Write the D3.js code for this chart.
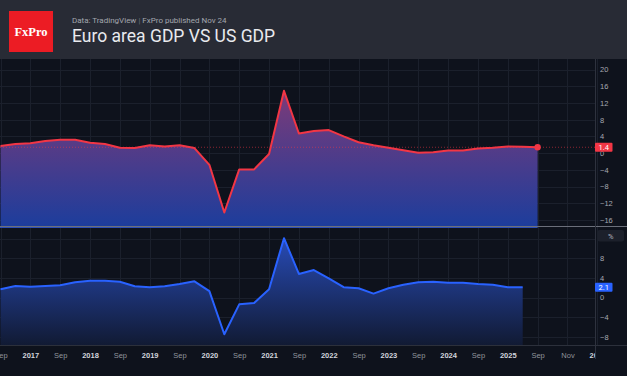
<!DOCTYPE html>
<html lang="en">
<head>
<meta charset="UTF-8">
<title>Euro area GDP VS US GDP</title>
<script src="https://d3js.org/d3.v7.min.js"></script>
<style>
  html, body { margin: 0; padding: 0; background: #0e121c; }
  svg { display: block; font-family: Roboto, "Noto Sans", Arial, sans-serif; }
  .yax text { fill: #a6a9b2; font-size: 7.5px; }
  .xax text { fill: #8f929b; font-size: 7.5px; }
  .xax text.yr { fill: #d1d4dc; font-weight: bold; }
</style>
</head>
<body>
<svg width="627" height="376"></svg>
<script>
// quarterly readings, year-on-year %
const quarters = ["2016 Q3","2016 Q4","2017 Q1","2017 Q2","2017 Q3","2017 Q4","2018 Q1","2018 Q2","2018 Q3","2018 Q4",
  "2019 Q1","2019 Q2","2019 Q3","2019 Q4","2020 Q1","2020 Q2","2020 Q3","2020 Q4","2021 Q1","2021 Q2",
  "2021 Q3","2021 Q4","2022 Q1","2022 Q2","2022 Q3","2022 Q4","2023 Q1","2023 Q2","2023 Q3","2023 Q4",
  "2024 Q1","2024 Q2","2024 Q3","2024 Q4","2025 Q1","2025 Q2","2025 Q3"];
const euroGdp = [1.7, 2.2, 2.35, 2.9, 3.2, 3.2, 2.5, 2.2, 1.3, 1.2,
  1.9, 1.6, 1.9, 1.2, -2.8, -14.2, -3.9, -3.9, -0.2, 14.9,
  4.7, 5.3, 5.5, 4.0, 2.6, 1.9, 1.3, 0.7, 0.1, 0.2,
  0.6, 0.6, 1.1, 1.3, 1.6, 1.5, 1.4];
const usGdp = [1.7, 2.35, 2.2, 2.35, 2.5, 3.1, 3.4, 3.4, 3.2, 2.3,
  2.1, 2.3, 2.75, 3.3, 1.3, -7.5, -1.4, -1.1, 1.7, 12.1,
  4.8, 5.6, 3.9, 2.1, 1.9, 0.8, 1.9, 2.6, 3.1, 3.2,
  3.0, 3.0, 2.75, 2.6, 2.1, 2.1];

const xTickPos = [0, 2, 4, 6, 8, 10, 12, 14, 16, 18, 20, 22, 24, 26, 28, 30, 32, 34, 36, 38, 40];
const xTickLabels = ["Sep","2017","Sep","2018","Sep","2019","Sep","2020","Sep","2021","Sep",
  "2022","Sep","2023","Sep","2024","Sep","2025","Sep","Nov","2026"];
const topTicks = [20, 16, 12, 8, 4, 0, -4, -8, -12, -16];
const bottomTicks = [8, 4, 0, -4, -8];
const bottomGrid = [12, 8, 4, 0, -4, -8];

const W = 627, H = 376, axisX = 595;
const topPane = { y0: 59, y1: 226 };
const botPane = { y0: 227, y1: 345.5 };

const svg = d3.select("svg");

// header
svg.append("rect").attr("width", W).attr("height", topPane.y0).attr("fill", "#282b35");
svg.append("rect").attr("y", topPane.y0).attr("width", W).attr("height", H - topPane.y0).attr("fill", "#0e121c");
svg.append("rect").attr("x", 9).attr("y", 11).attr("width", 44).attr("height", 41).attr("fill", "#ec1c24");
svg.append("text").attr("x", 31).attr("y", 36).attr("text-anchor", "middle")
  .attr("font-family", "'Liberation Serif', 'DejaVu Serif', serif").attr("font-size", 12.5)
  .attr("font-weight", "bold").attr("fill", "#fff").text("FxPro");
const sub = svg.append("text").attr("x", 72).attr("y", 23).attr("font-size", 8).attr("fill", "#a3a6ae");
sub.append("tspan").text("Data: TradingView ");
sub.append("tspan").attr("fill", "#6d707a").text("|");
sub.append("tspan").text(" FxPro published Nov 24");
svg.append("text").attr("x", 72).attr("y", 41.5).attr("font-size", 17.5).attr("fill", "#e9eaee")
  .text("Euro area GDP VS US GDP");

const x = d3.scaleLinear().domain([0, 40]).range([0.5, 597.3]);
const yTop = d3.scaleLinear().domain([-16, 20]).range([220, 69.5]);
const yBot = d3.scaleLinear().domain([-8, 8]).range([336.7, 258.3]);

const defs = svg.append("defs");
const g1 = defs.append("linearGradient").attr("id", "gTop").attr("gradientUnits", "userSpaceOnUse")
  .attr("x1", 0).attr("x2", 0).attr("y1", topPane.y0).attr("y2", topPane.y1);
g1.append("stop").attr("offset", 0).attr("stop-color", "#933a70");
g1.append("stop").attr("offset", 1).attr("stop-color", "#1d3d9c");
const g2 = defs.append("linearGradient").attr("id", "gBot").attr("gradientUnits", "userSpaceOnUse")
  .attr("x1", 0).attr("x2", 0).attr("y1", botPane.y0).attr("y2", botPane.y1);
g2.append("stop").attr("offset", 0).attr("stop-color", "#2a50c4");
g2.append("stop").attr("offset", 1).attr("stop-color", "#111a33");
defs.append("clipPath").attr("id", "cTop").append("rect")
  .attr("x", 0).attr("y", topPane.y0).attr("width", axisX).attr("height", topPane.y1 - topPane.y0);
defs.append("clipPath").attr("id", "cBot").append("rect")
  .attr("x", 0).attr("y", botPane.y0).attr("width", axisX).attr("height", botPane.y1 - botPane.y0);
defs.append("clipPath").attr("id", "cX").append("rect")
  .attr("x", 0).attr("y", botPane.y1).attr("width", axisX).attr("height", H - botPane.y1);

const gridColor = "#1b202c";

// vertical grid
svg.append("g").selectAll("line").data(xTickPos).join("line")
  .attr("x1", d => Math.round(x(d)) + 0.5).attr("x2", d => Math.round(x(d)) + 0.5)
  .attr("y1", topPane.y0).attr("y2", botPane.y1)
  .attr("stroke", gridColor);
// horizontal grid
svg.append("g").selectAll("line").data(topTicks).join("line")
  .attr("x1", 0).attr("x2", axisX).attr("y1", d => Math.round(yTop(d)) + 0.5).attr("y2", d => Math.round(yTop(d)) + 0.5)
  .attr("stroke", gridColor);
svg.append("g").selectAll("line").data(bottomGrid).join("line")
  .attr("x1", 0).attr("x2", axisX).attr("y1", d => Math.round(yBot(d)) + 0.5).attr("y2", d => Math.round(yBot(d)) + 0.5)
  .attr("stroke", gridColor);

// top pane: euro area
const pTop = svg.append("g").attr("clip-path", "url(#cTop)");
pTop.append("path").datum(euroGdp)
  .attr("d", d3.area().x((d, i) => x(i)).y0(topPane.y1).y1(d => yTop(d)))
  .attr("fill", "url(#gTop)");
const lastE = euroGdp[euroGdp.length - 1];
pTop.append("line").attr("x1", 0).attr("x2", axisX)
  .attr("y1", yTop(lastE)).attr("y2", yTop(lastE))
  .attr("stroke", "#f23645").attr("stroke-opacity", 0.55).attr("stroke-dasharray", "1,2");
pTop.append("path").datum(euroGdp)
  .attr("d", d3.line().x((d, i) => x(i)).y(d => yTop(d)))
  .attr("fill", "none").attr("stroke", "#f23645").attr("stroke-width", 2).attr("stroke-linejoin", "round");
pTop.append("circle").attr("cx", x(euroGdp.length - 1)).attr("cy", yTop(lastE)).attr("r", 3.2).attr("fill", "#f23645");

// bottom pane: US
const pBot = svg.append("g").attr("clip-path", "url(#cBot)");
pBot.append("path").datum(usGdp)
  .attr("d", d3.area().x((d, i) => x(i)).y0(botPane.y1).y1(d => yBot(d)))
  .attr("fill", "url(#gBot)");
pBot.append("path").datum(usGdp)
  .attr("d", d3.line().x((d, i) => x(i)).y(d => yBot(d)))
  .attr("fill", "none").attr("stroke", "#2962ff").attr("stroke-width", 2).attr("stroke-linejoin", "round");

// pane separators and axis lines
svg.append("line").attr("x1", 0).attr("x2", W).attr("y1", 226.5).attr("y2", 226.5).attr("stroke", "#6b6f7a");
svg.append("line").attr("x1", 0).attr("x2", x(euroGdp.length - 1)).attr("y1", 227.5).attr("y2", 227.5).attr("stroke", "#2d4fb8");
svg.append("line").attr("x1", 0).attr("x2", W).attr("y1", 345.5).attr("y2", 345.5).attr("stroke", "#2c303b");
svg.append("line").attr("x1", axisX + 0.5).attr("x2", axisX + 0.5).attr("y1", topPane.y0).attr("y2", 359).attr("stroke", "#2e323e");

// price axes
const fmt = d => d < 0 ? "\u2212" + Math.abs(d) : String(d);
const ayTop = svg.append("g").attr("class", "yax").attr("transform", `translate(${axisX + 4},0)`)
  .call(d3.axisRight(yTop).tickValues(topTicks).tickSize(0).tickFormat(fmt));
const ayBot = svg.append("g").attr("class", "yax").attr("transform", `translate(${axisX + 4},0)`)
  .call(d3.axisRight(yBot).tickValues(bottomTicks).tickSize(0).tickFormat(fmt));
[ayTop, ayBot].forEach(a => { a.select(".domain").remove(); a.selectAll("text").attr("x", 1).attr("font-family", null).attr("font-size", null); });

// x axis (clip applied on an untransformed wrapper)
const ax = svg.append("g").attr("clip-path", "url(#cX)")
  .append("g").attr("class", "xax")
  .attr("transform", `translate(0,${botPane.y1 + 4})`)
  .call(d3.axisBottom(x).tickValues(xTickPos).tickSize(0).tickFormat((d, i) => xTickLabels[i]));
ax.select(".domain").remove();
ax.selectAll("text").attr("font-family", null).attr("font-size", null)
  .attr("class", (d, i) => /^\d+$/.test(xTickLabels[i]) ? "yr" : null);

// last value labels
function priceTag(val, y, color) {
  svg.append("rect").attr("x", axisX).attr("y", y - 4.5).attr("width", 17.5).attr("height", 9)
    .attr("rx", 1).attr("fill", color);
  svg.append("text").attr("x", axisX + 8.75).attr("y", y).attr("dy", "0.35em").attr("text-anchor", "middle")
    .attr("font-size", 7.5).attr("fill", "#fff").text(val.toFixed(1));
}
priceTag(lastE, yTop(lastE), "#f23645");
const lastU = usGdp[usGdp.length - 1];
priceTag(lastU, yBot(lastU), "#2962ff");

// percent badge
svg.append("rect").attr("x", 597.5).attr("y", 230).attr("width", 26.5).attr("height", 11.5).attr("rx", 2)
  .attr("fill", "#1c202b");
svg.append("text").attr("x", 610.7).attr("y", 236).attr("dy", "0.35em").attr("text-anchor", "middle")
  .attr("font-size", 7.5).attr("fill", "#b2b5be").text("%");
</script>
</body>
</html>
